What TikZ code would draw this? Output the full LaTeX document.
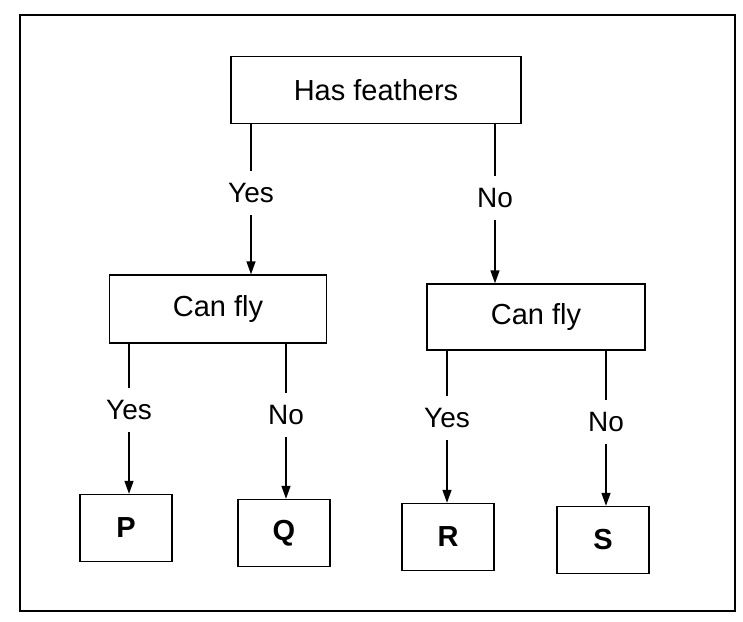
\documentclass[tikz,border=0pt]{standalone}
\usepackage{fontspec}
\setmainfont{Liberation Sans}
\usetikzlibrary{arrows.meta}
\begin{document}
\begin{tikzpicture}[x=1pt,y=-1pt,
  box/.style={draw,line width=1.4pt,inner sep=0pt,font=\fontsize{29}{32}\selectfont},
  leaf/.style={box,minimum width=92pt,minimum height=67pt,font=\fontsize{29}{32}\selectfont\bfseries},
  lbl/.style={inner sep=0pt,minimum height=44pt,font=\fontsize{28}{30}\selectfont},
  conn/.style={line width=1.4pt},
  arr/.style={line width=1.4pt,-{Triangle[length=13pt,width=9pt]}}]
\useasboundingbox (0,0) rectangle (743,621);
\draw[line width=1.4pt] (20,15) rectangle (735,611);
% nodes
\node[box,minimum width=290pt,minimum height=67pt] (hf) at (376,90) {Has feathers};
\node[box,minimum width=217pt,minimum height=68pt] (cf1) at (218,309) {Can fly};
\node[box,minimum width=218pt,minimum height=66pt] (cf2) at (536,317) {Can fly};
\node[leaf] (p) at (126,528) {P};
\node[leaf] (q) at (284,533) {Q};
\node[leaf] (r) at (448,537) {R};
\node[leaf] (s) at (603,540) {S};
% labels
\node[lbl] (y1) at (251,193) {Yes};
\node[lbl] (n1) at (495,198) {No};
\node[lbl] (y2) at (129,410) {Yes};
\node[lbl] (n2) at (286,415) {No};
\node[lbl] (y3) at (447,418) {Yes};
\node[lbl] (n3) at (606,422) {No};
% connectors
\draw[conn] (hf.south -| y1) -- (y1.north);
\draw[arr] (y1.south) -- (cf1.north -| y1);
\draw[conn] (hf.south -| n1) -- (n1.north);
\draw[arr] (n1.south) -- (cf2.north -| n1);
\draw[conn] (cf1.south -| y2) -- (y2.north);
\draw[arr] (y2.south) -- (p.north -| y2);
\draw[conn] (cf1.south -| n2) -- (n2.north);
\draw[arr] (n2.south) -- (q.north -| n2);
\draw[conn] (cf2.south -| y3) -- (y3.north);
\draw[arr] (y3.south) -- (r.north -| y3);
\draw[conn] (cf2.south -| n3) -- (n3.north);
\draw[arr] (n3.south) -- (s.north -| n3);
\end{tikzpicture}
\end{document}
